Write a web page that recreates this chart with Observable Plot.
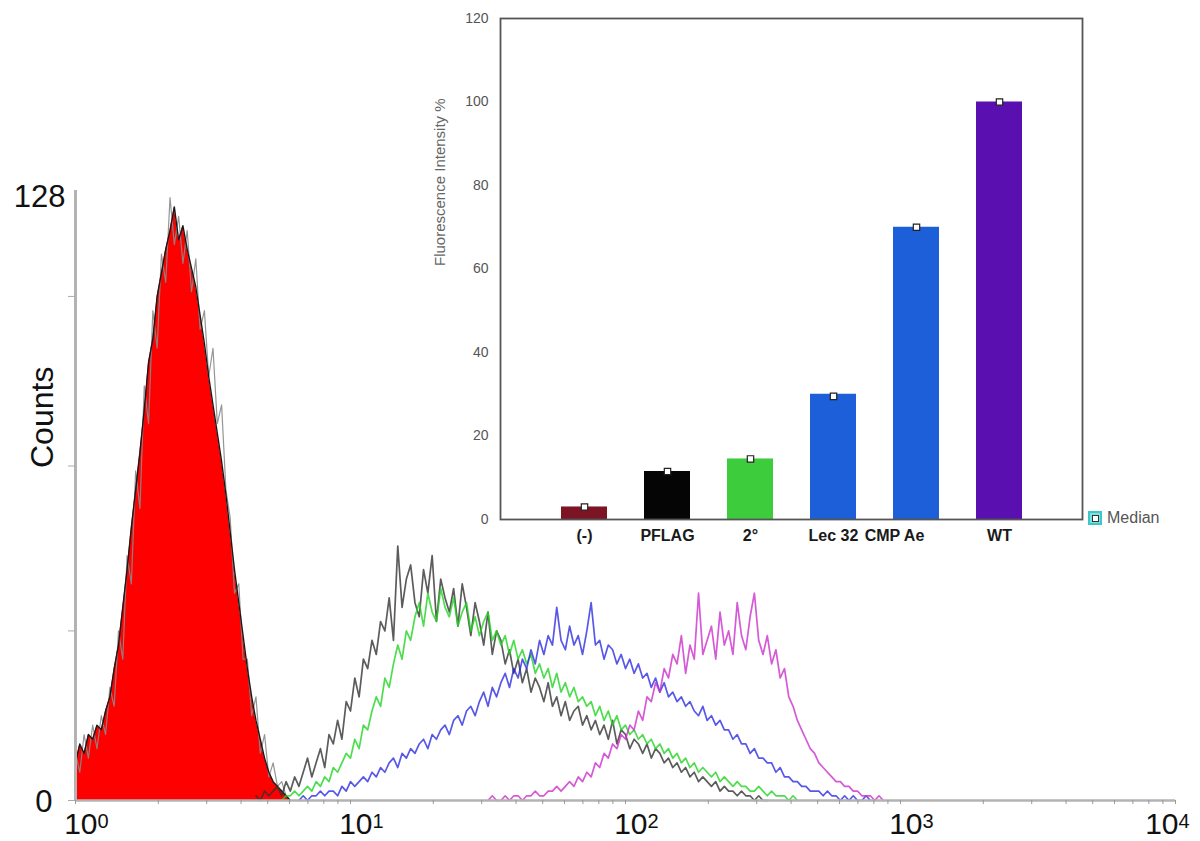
<!DOCTYPE html>
<html>
<head>
<meta charset="utf-8">
<script src="https://cdn.jsdelivr.net/npm/d3@7"></script>
<script src="https://cdn.jsdelivr.net/npm/@observablehq/plot@0.6"></script>
<style>
  html, body { margin: 0; padding: 0; background: #fff; }
  #wrap { position: relative; width: 1200px; height: 841px; background: #fff; overflow: hidden; font-family: "Liberation Sans", Arial, sans-serif; }
  #main, #inset { position: absolute; top: 0; }
  #main { left: 0; width: 1200px; }
  #inset { left: 400px; width: 800px; }
  #legend { position: absolute; left: 1088px; top: 509px; display: flex; align-items: center; gap: 5px; font-size: 16px; color: #555; }
  #legend .sw { width: 10px; height: 10px; background: #7fe0e0; border: 2px solid #3cc8c8; display: flex; align-items: center; justify-content: center; }
  #legend .sw i { display: block; width: 5px; height: 5px; background: #fff; border: 1px solid #333; }
</style>
</head>
<body>
<div id="wrap">
  <div id="main"></div>
  <div id="inset"></div>
  <div id="legend"><span class="sw"><i></i></span><span>Median</span></div>
</div>
<script>
// ---------- Histogram data (256 log channels over 4 decades: value = 10^(channel/64)) ----------
const channelsPerDecade = 64;

// (-) control: red filled histogram, channels 0..50
const redStart = 0;
const redCounts = [8,12,10,14,13,16,15,19,22,28,33,41,49,58,66,74,83,93,98,107,112,117,121,126,119,122,117,113,109,103,97,90,84,78,72,65,57,49,42,35,28,22,17,13,9,6,4,3,2,1,0];
// grey spiky outline over the red histogram
const redOutline = [10,6,14,9,16,11,18,14,24,20,36,30,52,46,70,62,88,80,104,96,116,110,128,118,124,114,121,108,115,100,104,90,96,80,84,66,60,44,46,30,30,18,22,10,14,5,8,3,4,1,0];

// PFLAG (black), channels 42..161
const blackStart = 42;
const blackCounts = [1,0,2,1,2,3,1,4,2,5,3,6,9,5,8,11,7,14,12,17,13,21,19,26,22,30,28,34,31,38,36,43,34,54,41,47,50,42,39,49,44,52,38,47,43,40,45,37,46,41,35,42,38,33,40,31,36,34,29,32,27,30,25,28,23,26,24,21,25,20,22,18,21,17,19,20,16,18,15,17,14,16,13,17,12,15,14,11,13,12,10,12,9,11,10,8,9,7,8,6,7,5,6,4,5,4,3,4,2,3,2,2,1,2,1,1,0,1,0,0];

// 2° (green), channels 48..168
const greenStart = 48;
const greenCounts = [0,1,1,2,1,2,3,2,4,3,5,4,7,6,8,10,9,13,11,16,15,19,22,20,26,24,29,33,30,36,34,39,42,37,44,40,38,45,41,39,43,37,40,42,36,39,35,38,40,34,36,33,35,31,34,30,32,29,31,27,29,26,28,24,27,23,25,22,24,21,22,20,21,18,20,17,19,16,18,15,16,14,15,13,14,12,13,11,12,10,11,9,10,8,9,7,8,6,7,6,5,6,4,5,4,3,4,3,3,2,2,3,2,1,2,1,1,1,0,1,0];

// Lec 32 (blue), channels 52..185
const blueStart = 52;
const blueCounts = [0,1,0,1,1,2,1,2,2,1,3,2,4,3,4,5,4,6,5,7,6,8,9,7,10,9,11,10,12,13,11,14,13,15,16,14,17,18,16,19,20,18,21,23,20,24,22,25,27,24,28,26,30,28,32,29,34,31,35,33,41,34,32,37,33,35,31,36,42,33,34,30,33,32,29,31,28,30,27,29,26,27,24,26,23,25,22,23,21,22,20,21,19,18,20,17,18,16,17,15,15,13,14,12,12,10,11,9,9,8,8,6,7,5,5,4,4,3,3,2,2,2,1,2,1,1,0,1,0,1,0,0,1,0];

// WT (magenta), channels 96..188
const magentaStart = 96;
const magentaCounts = [0,1,0,0,1,0,1,1,0,1,1,2,1,1,2,2,3,2,3,4,3,5,4,6,5,8,7,10,9,12,11,14,13,16,15,19,17,22,21,25,23,28,26,31,29,35,27,33,30,44,31,34,37,30,40,33,36,31,42,35,32,39,44,34,31,35,29,32,26,28,22,20,17,15,13,11,10,8,7,6,5,4,4,3,3,2,2,1,1,1,0,1,0];

// axis ticks
const xDecades = [1, 10, 100, 1000, 10000];
const xExponents = ["0", "1", "2", "3", "4"];
const xMinorTicks = [1,2,3,4,5,6,7,8,9,10,20,30,40,50,60,70,80,90,100,200,300,400,500,600,700,800,900,1000,2000,3000,4000,5000,6000,7000,8000,9000,10000];
const yTicks = [0, 36, 71, 107];
const yLabels = ["0", "128"];
const yLabelValues = [0, 128];

// ---------- Inset bar chart data ----------
const categories = ["(-)", "PFLAG", "2°", "Lec 32", "CMP Ae", "WT"];
const fluorescence = [3, 11.5, 14.5, 30, 70, 100];
const medians = [3, 11.5, 14.5, 29.5, 70, 100];
const barColors = ["#7d1424", "#050505", "#3ccc3c", "#1c5fd8", "#1c5fd8", "#5a10b0"];
const insetYTicks = [0, 20, 40, 60, 80, 100, 120];

const font = "'Liberation Sans', Arial, sans-serif";

function rows(start, counts) {
  return counts.map((c, i) => ({x: Math.pow(10, (start + i) / channelsPerDecade), y: c}));
}

const red = rows(redStart, redCounts);
const redO = rows(redStart, redOutline);
const black = rows(blackStart, blackCounts);
const green = rows(greenStart, greenCounts);
const blue = rows(blueStart, blueCounts);
const magenta = rows(magentaStart, magentaCounts);

const main = Plot.plot({
  width: 1200,
  height: 841,
  marginLeft: 75,
  marginRight: 25,
  marginTop: 197,
  marginBottom: 41,
  style: {fontFamily: font, background: "transparent", overflow: "visible"},
  x: {type: "log", domain: [1, 10000]},
  y: {domain: [0, 128]},
  marks: [
    Plot.areaY(red, {x: "x", y: "y", fill: "#ff0000"}),
    Plot.line(redO, {x: "x", y: "y", stroke: "#8a8a8a", strokeWidth: 1.2, strokeOpacity: 0.9}),
    Plot.line(red, {x: "x", y: "y", stroke: "#1a1a1a", strokeWidth: 1.4}),
    Plot.line(black, {x: "x", y: "y", stroke: "#333333", strokeWidth: 1.7, strokeOpacity: 0.8}),
    Plot.line(green, {x: "x", y: "y", stroke: "#22d422", strokeWidth: 1.7, strokeOpacity: 0.8}),
    Plot.line(blue, {x: "x", y: "y", stroke: "#2020e0", strokeWidth: 1.7, strokeOpacity: 0.75}),
    Plot.line(magenta, {x: "x", y: "y", stroke: "#cc30cc", strokeWidth: 1.7, strokeOpacity: 0.8}),
    Plot.ruleY([0], {stroke: "#b3b3b3", strokeWidth: 2.5}),
    Plot.ruleX([1], {y1: 0, y2: 129.5, stroke: "#b3b3b3", strokeWidth: 3}),
    Plot.axisX({ticks: xMinorTicks, tickSize: 4, tickFormat: () => "", stroke: "#999", label: null}),
    Plot.axisY({ticks: yTicks, tickSize: 7, tickFormat: () => "", stroke: "#aaa", label: null}),
    // decade labels 10^k
    Plot.text(xDecades.slice(0, 4), {x: d => d, frameAnchor: "bottom", text: () => "10", textAnchor: "end", lineAnchor: "bottom", dx: 22, dy: 33, fontSize: 30, fill: "#111"}),
    Plot.text(xDecades.slice(0, 4), {x: d => d, frameAnchor: "bottom", text: (d, i) => xExponents[i], textAnchor: "start", lineAnchor: "bottom", dx: 22, dy: 27, fontSize: 20, fill: "#111"}),
    Plot.text(xDecades.slice(4), {x: d => d, frameAnchor: "bottom", text: () => "10", textAnchor: "end", lineAnchor: "bottom", dx: 3, dy: 33, fontSize: 30, fill: "#111"}),
    Plot.text(xDecades.slice(4), {x: d => d, frameAnchor: "bottom", text: (d, i) => xExponents[4 + i], textAnchor: "start", lineAnchor: "bottom", dx: 3, dy: 27, fontSize: 20, fill: "#111"}),
    // y labels
    Plot.text([yLabelValues[1]], {x: 1, y: d => d, text: () => yLabels[1], textAnchor: "end", dx: -10, fontSize: 31, fill: "#111"}),
    Plot.text([yLabelValues[0]], {x: 1, y: d => d, text: () => yLabels[0], textAnchor: "end", dx: -23, dy: 2, fontSize: 31, fill: "#111"}),
    Plot.text(["Counts"], {frameAnchor: "left", text: d => d, rotate: -90, dx: -33, dy: -31, fontSize: 32, fill: "#111"})
  ]
});
document.getElementById("main").appendChild(main);

const bars = categories.map((c, i) => ({cat: c, v: fluorescence[i], m: medians[i], color: barColors[i]}));

const inset = Plot.plot({
  width: 800,
  height: 560,
  marginLeft: 100,
  marginRight: 118,
  marginTop: 18,
  marginBottom: 41,
  style: {fontFamily: font, background: "transparent", overflow: "visible"},
  x: {domain: categories, paddingInner: 0.45, paddingOuter: 0.73, label: null},
  y: {domain: [0, 120], label: null},
  marks: [
    Plot.barY(bars, {x: "cat", y: "v", fill: "color"}),
    Plot.dot(bars, {x: "cat", y: "m", symbol: "square", r: 3.6, fill: "#fff", stroke: "#222", strokeWidth: 1.2}),
    Plot.frame({stroke: "#555", strokeWidth: 1.8}),
    Plot.axisY({ticks: insetYTicks, tickSize: 0, tickPadding: 12, fontSize: 14, color: "#555", label: null}),
    Plot.axisX({ticks: categories.filter(c => c !== "CMP Ae"), tickSize: 0, tickPadding: 10, fontSize: 16, fontWeight: "bold", color: "#1a1a1a", label: null}),
    Plot.axisX({ticks: categories.filter(c => c === "CMP Ae"), tickSize: 0, tickPadding: 10, dx: -22, fontSize: 16, fontWeight: "bold", color: "#1a1a1a", label: null}),
    Plot.text(["Fluorescence Intensity %"], {frameAnchor: "left", text: d => d, rotate: -90, dx: -60, dy: -3, fontSize: 15, fill: "#666"})
  ]
});
document.getElementById("inset").appendChild(inset);
</script>
</body>
</html>
